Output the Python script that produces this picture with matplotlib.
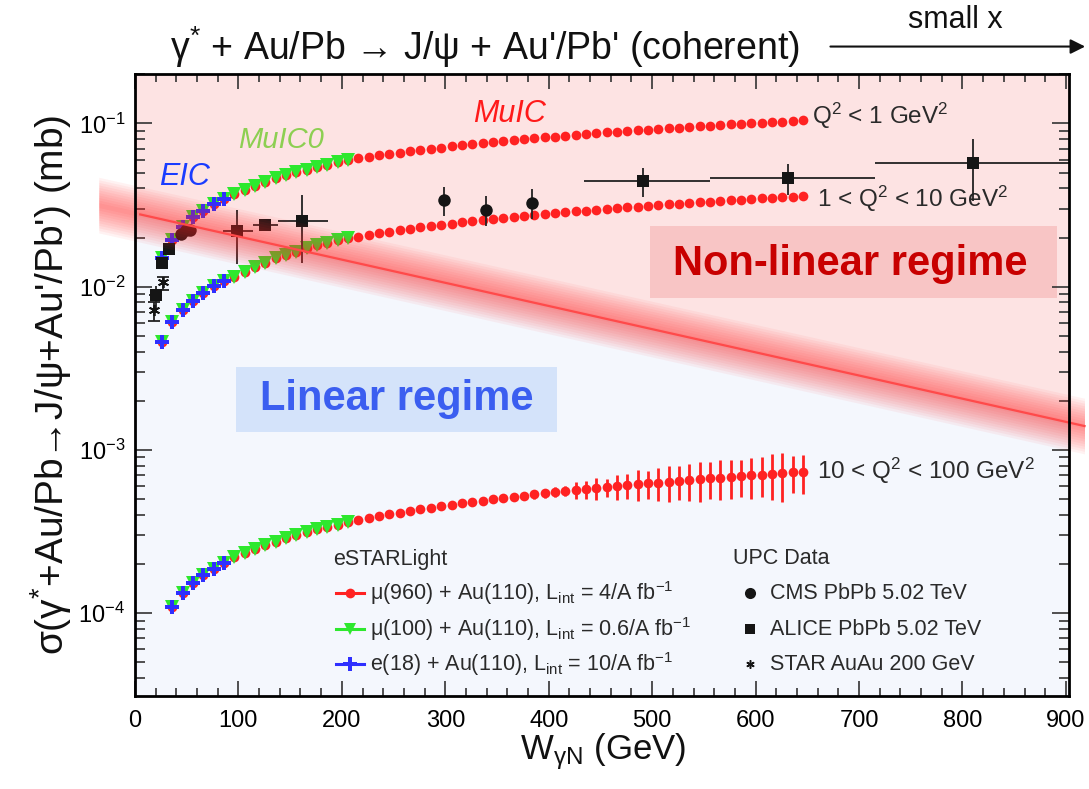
import numpy as np
import matplotlib
matplotlib.use("Agg")
import matplotlib.pyplot as plt
from matplotlib.lines import Line2D
from matplotlib.patches import Rectangle

plt.rcParams['font.family'] = ['Liberation Sans', 'DejaVu Sans']
plt.rcParams['mathtext.fontset'] = 'custom'
plt.rcParams['mathtext.rm'] = 'Liberation Sans'
plt.rcParams['mathtext.it'] = 'Liberation Sans:italic'
plt.rcParams['mathtext.bf'] = 'Liberation Sans:bold'
plt.rcParams['mathtext.default'] = 'regular'

# ---------------- data ----------------
# W grid (GeV) of the eSTARLight projections
W_all = [26, 36, 46, 56, 66, 76, 86, 96, 106, 116, 126, 136, 146, 156, 166, 176, 186, 196, 206,
         216, 226, 236, 246, 256, 266, 276, 286, 296, 306, 316, 326, 336, 346, 356, 366, 376, 386,
         396, 406, 416, 426, 436, 446, 456, 466, 476, 486, 496, 506, 516, 526, 536, 546, 556, 566,
         576, 586, 596, 606, 616, 626, 636, 646]
n_muic0 = 19   # MuIC0 points (W <= 206)
n_eic = 7      # EIC points (W <= 86)

# Q2 < 1 GeV2 (mb)
sig_q1 = [0.0150, 0.0193, 0.0232, 0.0266, 0.0292, 0.0321, 0.0344, 0.0369, 0.0393, 0.0415, 0.0438,
          0.0460, 0.0481, 0.0501, 0.0520, 0.0539, 0.0557, 0.0577, 0.0596,
          0.0610, 0.0624, 0.0637, 0.0650, 0.0663, 0.0675, 0.0688, 0.0700, 0.0712, 0.0723, 0.0735,
          0.0746, 0.0757, 0.0768, 0.0779, 0.0790, 0.0800, 0.0811, 0.0821, 0.0831, 0.0841, 0.0851,
          0.0861, 0.0870, 0.0880, 0.0889, 0.0898, 0.0908, 0.0917, 0.0926, 0.0935, 0.0943, 0.0952,
          0.0961, 0.0969, 0.0978, 0.0986, 0.0995, 0.1003, 0.1011, 0.1019, 0.1027, 0.1035, 0.1043]
# 1 < Q2 < 10 GeV2 (mb)
sig_q10 = [0.00460, 0.00604, 0.00719, 0.00820, 0.00918, 0.01009, 0.01085, 0.01150, 0.01224,
           0.01313, 0.01401, 0.01490, 0.01561, 0.01636, 0.01716, 0.01798, 0.01857, 0.01930, 0.01985,
           0.02029, 0.02078, 0.02125, 0.02172, 0.02217, 0.02261, 0.02305, 0.02348, 0.02391, 0.02432,
           0.02473, 0.02514, 0.02553, 0.02593, 0.02631, 0.02669, 0.02707, 0.02745, 0.02781, 0.02818,
           0.02853, 0.02889, 0.02924, 0.02958, 0.02993, 0.03026, 0.03060, 0.03094, 0.03126, 0.03159,
           0.03191, 0.03223, 0.03255, 0.03286, 0.03318, 0.03348, 0.03379, 0.03409, 0.03439, 0.03469,
           0.03499, 0.03528, 0.03557, 0.03587]
# 10 < Q2 < 100 GeV2 (mb), grid starts at W = 36
W_hi = W_all[1:]
sig_q100 = [1.087e-4, 1.324e-4, 1.524e-4, 1.706e-4, 1.865e-4, 2.021e-4, 2.199e-4, 2.327e-4,
            2.470e-4, 2.616e-4, 2.745e-4, 2.874e-4, 3.000e-4, 3.128e-4, 3.257e-4, 3.385e-4,
            3.490e-4, 3.600e-4,
            3.708e-4, 3.815e-4, 3.919e-4, 4.022e-4, 4.124e-4, 4.224e-4, 4.322e-4, 4.419e-4,
            4.515e-4, 4.610e-4, 4.704e-4, 4.796e-4, 4.888e-4, 4.978e-4, 5.067e-4, 5.156e-4,
            5.244e-4, 5.331e-4, 5.416e-4, 5.502e-4, 5.586e-4, 5.669e-4, 5.752e-4, 5.834e-4,
            5.916e-4, 5.996e-4, 6.076e-4, 6.156e-4, 6.235e-4, 6.313e-4, 6.391e-4, 6.468e-4,
            6.544e-4, 6.620e-4, 6.696e-4, 6.771e-4, 6.845e-4, 6.920e-4, 6.993e-4, 7.066e-4,
            7.139e-4, 7.211e-4, 7.283e-4, 7.355e-4]
relerr_q100 = [0.0] * 18 + [0.010, 0.012, 0.014, 0.015, 0.017, 0.020, 0.022, 0.025,
               0.030, 0.035, 0.040, 0.040, 0.045, 0.050, 0.050, 0.055, 0.060, 0.060, 0.065, 0.070,
               0.070, 0.117, 0.128, 0.151, 0.128, 0.175, 0.175, 0.215, 0.197, 0.231, 0.253, 0.235,
               0.253, 0.275, 0.253, 0.275, 0.264, 0.253, 0.281, 0.275, 0.313, 0.332, 0.257, 0.268]

# UPC data
cms_W = [44, 49, 53, 299, 339, 384]
cms_sig = [0.0210, 0.0222, 0.0221, 0.0339, 0.0294, 0.0327]
cms_err_lo = [0.0012, 0.0012, 0.0012, 0.0069, 0.0060, 0.0066]
cms_err_hi = [0.0012, 0.0012, 0.0012, 0.0069, 0.0065, 0.0067]

alice_W = [20, 26, 33, 98.5, 126, 161, 491, 631, 810]
alice_sig = [0.00885, 0.0139, 0.0169, 0.0220, 0.0240, 0.0251, 0.0444, 0.0466, 0.0573]
alice_err_lo = [0.0017, 0.0007, 0.0008, 0.0082, 0.0010, 0.0112, 0.0090, 0.0103, 0.0240]
alice_err_hi = [0.0013, 0.0007, 0.0008, 0.0076, 0.0010, 0.0113, 0.0092, 0.0100, 0.0233]
alice_xlo = [6, 0, 0, 13.8, 12, 22.3, 57, 75, 95]
alice_xhi = [6, 0, 0, 15.7, 12.7, 26, 65, 84, 190]

star_W = [18.6, 26.7]
star_sig = [0.00716, 0.0107]
star_err_lo = [0.00096, 0.0012]
star_err_hi = [0.00094, 0.0007]

# linear / non-linear boundary (glow extent, then drawn line)
bnd_W = [-35, 5, 918]
bnd_sig = [0.0316, 0.0277, 0.00140]

# legend texts
est_labels = ['$\\mu$(960) + Au(110), L$_{int}$ = 4/A fb$^{-1}$',
              '$\\mu$(100) + Au(110), L$_{int}$ = 0.6/A fb$^{-1}$',
              'e(18) + Au(110), L$_{int}$ = 10/A fb$^{-1}$']
upc_labels = ['CMS PbPb 5.02 TeV', 'ALICE PbPb 5.02 TeV', 'STAR AuAu 200 GeV']

# ---------------- style ----------------
RED = '#ff2222'
GREEN = '#2ee82e'
BLUE = '#2f2fff'
PINK = '#fde3e3'
LBLUE = '#f4f7fd'
DARK = '#151515'
TXT = '#2a2a2a'

fig = plt.figure(figsize=(10.89, 7.89), dpi=100)
ax = fig.add_axes([0.12397, 0.11825, 0.85767, 0.78758])
ax.set_yscale('log')
ax.set_xlim(0, 903)
ax.set_ylim(3.12e-5, 0.2)
ax.set_facecolor(LBLUE)


def axx(px):
    return (px - 135.0) / 934.0


def axy(py):
    return (695.7 - py) / 621.4


bW = np.array(bnd_W)[[0, 2]]
bS = np.array(bnd_sig)[[0, 2]]
ax.fill_between(bW, bS, [10.0, 10.0], color=PINK, lw=0, zorder=0)

# glow around the boundary (drawn above the points, as in the original)
for k in range(1, 12):
    d = 0.0155 * k
    ax.fill_between(bW, bS * 10 ** (-d), bS * 10 ** d, color='#ff2a2a', alpha=0.06,
                    lw=0, zorder=6, clip_on=False)
ax.plot(bnd_W[1:], bnd_sig[1:], color='#ff4a4a', lw=1.6, zorder=7, clip_on=False)

# regime boxes
ax.add_patch(Rectangle((axx(650), axy(298)), axx(1057) - axx(650), axy(226) - axy(298),
                       transform=ax.transAxes, facecolor='#f8c5c5', edgecolor='none', zorder=1))
ax.text(axx(850), axy(264), 'Non-linear regime', transform=ax.transAxes, ha='center',
        va='center', fontsize=30, fontweight='bold', color='#c80000', zorder=2)
ax.add_patch(Rectangle((axx(236), axy(432)), axx(557) - axx(236), axy(367) - axy(432),
                       transform=ax.transAxes, facecolor='#d4e3fa', edgecolor='none', zorder=1))
ax.text(axx(397), axy(399), 'Linear regime', transform=ax.transAxes, ha='center', va='center',
        fontsize=30, fontweight='bold', color='#3b5ef0', zorder=2)

# eSTARLight projections
ms_r, ms_g, ms_b = 7, 9.5, 10
for s in (sig_q1, sig_q10):
    ax.plot(W_all, s, 'o', color=RED, ms=ms_r, mew=0, zorder=3)
ax.errorbar(W_hi, sig_q100, yerr=np.array(relerr_q100) * np.array(sig_q100), fmt='o',
            color=RED, ms=ms_r, mew=0, elinewidth=2.0, capsize=0, zorder=3)
for s in (sig_q1, sig_q10):
    ax.plot(W_all[:n_muic0], s[:n_muic0], 'v', color=GREEN, ms=ms_g, mew=0, zorder=4)
ax.plot(W_hi[:n_muic0 - 1], sig_q100[:n_muic0 - 1], 'v', color=GREEN, ms=ms_g, mew=0, zorder=4)
for s in (sig_q1, sig_q10):
    ax.plot(W_all[:n_eic], s[:n_eic], 'P', color=BLUE, ms=ms_b, mew=0, zorder=5)
ax.plot(W_hi[:n_eic - 1], sig_q100[:n_eic - 1], 'P', color=BLUE, ms=ms_b, mew=0, zorder=5)

# UPC data
ekw = dict(ecolor='#222222', elinewidth=1.3, capsize=4, capthick=1.3, zorder=5.5)
ax.errorbar(alice_W, alice_sig, yerr=[alice_err_lo, alice_err_hi], xerr=[alice_xlo, alice_xhi],
            fmt='s', color=DARK, ms=9, mew=0, **ekw)
ax.errorbar(cms_W, cms_sig, yerr=[cms_err_lo, cms_err_hi], fmt='o', color=DARK, ms=9,
            mew=0, **ekw)
ax.errorbar(star_W, star_sig, yerr=[star_err_lo, star_err_hi], fmt='none', **ekw)
ax.plot(star_W, star_sig, linestyle='none', marker=(6, 2, 0), color=DARK, ms=8, mew=1.3,
        zorder=5.5)

# curve labels
ax.text(655, 0.111, 'Q$^{2}$ < 1 GeV$^{2}$', fontsize=17.5, color=TXT, va='center')
ax.text(659, 0.0344, '1 < Q$^{2}$ < 10 GeV$^{2}$', fontsize=17.5, color=TXT, va='center')
ax.text(659, 7.43e-4, '10 < Q$^{2}$ < 100 GeV$^{2}$', fontsize=17.5, color=TXT, va='center')
ax.text(327, 0.114, 'MuIC', fontsize=22, style='italic', color='#ff1a1a', va='center')
ax.text(100, 0.079, 'MuIC0', fontsize=21, style='italic', color='#8dcf52', va='center')
ax.text(23, 0.0469, 'EIC', fontsize=22, style='italic', color='#1a3cff', va='center')

# axes styling
for sp in ax.spines.values():
    sp.set_linewidth(2.0)
    sp.set_zorder(10)
ax.xaxis.set_major_locator(matplotlib.ticker.MultipleLocator(100))
ax.xaxis.set_minor_locator(matplotlib.ticker.MultipleLocator(20))
ax.yaxis.set_major_locator(matplotlib.ticker.LogLocator(base=10, numticks=10))
ax.yaxis.set_minor_locator(matplotlib.ticker.LogLocator(base=10, subs=np.arange(2, 10), numticks=20))
ax.yaxis.set_minor_formatter(matplotlib.ticker.NullFormatter())
ax.yaxis.set_major_formatter(matplotlib.ticker.FuncFormatter(
    lambda v, p: '10$^{%d}$' % int(round(np.log10(v)))))
ax.tick_params(which='both', direction='in', top=True, right=True, color='#333333', zorder=11)
ax.tick_params(axis='x', which='major', length=11, width=1.2, labelsize=17, pad=10)
ax.tick_params(axis='x', which='minor', length=6, width=1.2)
ax.tick_params(axis='y', which='major', length=12.5, width=1.2, labelsize=17, pad=7)
ax.tick_params(axis='y', which='minor', length=7, width=1.2)

# legends (drawn as keys + texts)
LFS = 15.5
row_y = [593, 629, 664]
ax.text(axx(333), axy(559), 'eSTARLight', transform=ax.transAxes, fontsize=LFS, color=TXT,
        va='center', ha='left')
ax.text(axx(733), axy(558), 'UPC Data', transform=ax.transAxes, fontsize=LFS, color=TXT,
        va='center', ha='left')
est_keys = [(RED, 'o', 7), (GREEN, 'v', 9), (BLUE, 'P', 9.5)]
for (c, m, ms), lab, py in zip(est_keys, est_labels, row_y):
    ax.add_line(Line2D([axx(336), axx(364)], [axy(py), axy(py)], transform=ax.transAxes,
                       color=c, lw=2.2, zorder=8))
    ax.add_line(Line2D([axx(350)], [axy(py)], transform=ax.transAxes, color=c, marker=m,
                       ms=ms, mew=0, lw=0, zorder=8))
    ax.text(axx(370), axy(py), lab, transform=ax.transAxes, fontsize=LFS, color=TXT,
            va='center', ha='left')
upc_keys = [('o', 8, 0), ('s', 7.5, 0), ((6, 2, 0), 6, 1.1)]
for (m, ms, mew), lab, py in zip(upc_keys, upc_labels, row_y):
    ax.add_line(Line2D([axx(750)], [axy(py)], transform=ax.transAxes, color=DARK, marker=m,
                       ms=ms, mew=mew, lw=0, zorder=8))
    ax.text(axx(770), axy(py), lab, transform=ax.transAxes, fontsize=LFS, color=TXT,
            va='center', ha='left')

# titles / axis labels
fig.text(0.4454, 0.9404, "γ$^{*}$ + Au/Pb → J/ψ + Au'/Pb' (coherent)", fontsize=27,
         ha='center', va='center', color='#111111')
fig.text(0.877, 0.975, 'small x', fontsize=22, ha='center', va='center', color='#111111')
fig.add_artist(matplotlib.patches.FancyArrowPatch((0.760, 0.941), (0.999, 0.941),
               transform=fig.transFigure, arrowstyle='-|>', mutation_scale=22,
               color='#111111', lw=1.5))
fig.text(0.047, 0.512, "σ(γ$^{*}$+Au/Pb→J/ψ+Au'/Pb') (mb)", rotation=90, fontsize=28,
         ha='center', va='center', color='#111111')
fig.text(0.5537, 0.047, 'W$_{γN}$ (GeV)', fontsize=25, ha='center', va='center',
         color='#111111')

fig.savefig('out.png', dpi=100)
